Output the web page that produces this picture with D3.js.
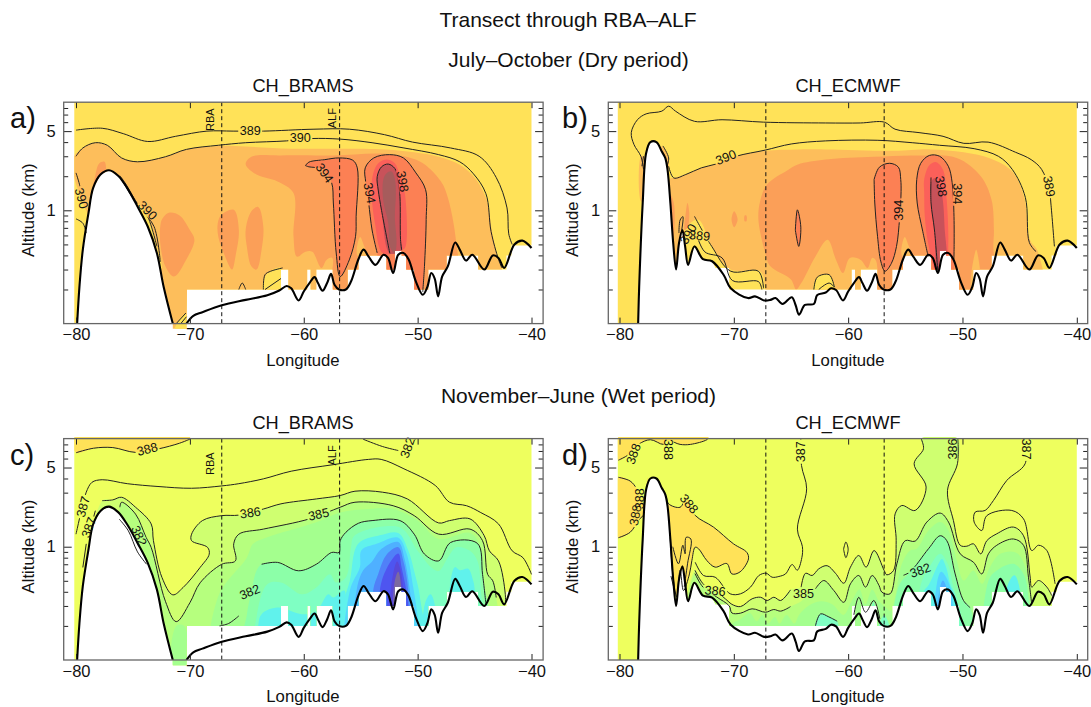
<!DOCTYPE html>
<html>
<head>
<meta charset="utf-8">
<style>
body { margin: 0; background: #fff; }
text { font-family: "Liberation Sans", Arial, sans-serif; fill: #111; }
.cline { fill: none; stroke: #222; stroke-width: 1px; }
.terrain { fill: none; stroke: #000; stroke-width: 2.1px; }
.site { stroke: #111; stroke-width: 1px; stroke-dasharray: 4 3; }
.tick line { stroke: #222; }
</style>
</head>
<body>
<script src="https://d3js.org/d3.v7.min.js"></script>
<script>

var longitudeTicks = [-80, -70, -60, -50, -40];
var altitudeTicks = [0.2, 0.3, 0.4, 0.5, 0.6, 0.7, 0.8, 0.9, 1, 2, 3, 4, 5, 6, 7, 8];
var altitudeMajor = [1, 5];
var siteLongitudes = [-67.2, -56.85];

// fill levels: dry period yellows and reds, wet period greens and blues
var levelColors = ['#ffe258', '#fdbe5b', '#fb9f58', '#fc8054', '#fb605a', '#c8525a', '#a65c5c',
	'#cfff70', '#b6ff7e', '#a4ff8e', '#8cffa8', '#7fffc3', '#60f2ec', '#55d5ff', '#4fb0ff', '#5080f8', '#4e55f0', '#5848d8', '#7c6aa0'];
var baseDry = '#ffe258';
var baseWet = '#eeff5e';

// ground height along the transect [lon, km]
var terrainBramsLeft = [[-79.9,0.1],[-79.7,0.21],[-79.4,0.45],[-78.9,0.95],[-78.5,1.57],[-77.85,2.07],[-77.1,2.26],[-76.3,2.02],[-75.5,1.57],[-74.6,1.08],[-73.7,0.72],[-72.9,0.42],[-72.3,0.21],[-71.5,0.1]];
var terrainBramsValley = [[-70.3,0.1],[-69.7,0.117],[-68.9,0.126],[-67.2,0.145],[-65.1,0.162],[-63.2,0.178],[-62.15,0.196],[-61.5,0.215],[-61.1,0.205]];
var terrainEcmwfLeft = [[-78.37,0.1],[-78.28,0.21],[-77.97,1.16],[-77.67,3.2],[-77.3,4],[-76.77,4],[-76.3,3.3],[-76,2.9],[-75.8,2.29],[-75.55,1.16],[-75.3,0.51],[-75.05,0.3],[-74.8,0.51],[-74.5,0.67],[-74.26,0.48],[-74,0.33],[-73.45,0.48],[-72.7,0.37],[-71.9,0.355],[-70.9,0.27]];
var terrainEcmwfValley = [[-70.27,0.205],[-68.76,0.168],[-68.15,0.174],[-67.34,0.16],[-66.8,0.162],[-66.35,0.168],[-65.74,0.149],[-64.93,0.171],[-64.6,0.146],[-64.3,0.12],[-63.78,0.146],[-63,0.149],[-62.7,0.179],[-61.96,0.188],[-61.5,0.205],[-61.06,0.198]];
var terrainRight = [[-60.45,0.16],[-60,0.192],[-59.5,0.228],[-59.05,0.257],[-58.75,0.228],[-58.35,0.195],[-57.95,0.228],[-57.6,0.275],[-57.3,0.22],[-56.9,0.2],[-56.3,0.2],[-55.85,0.235],[-55.2,0.37],[-54.75,0.45],[-54.3,0.39],[-53.7,0.33],[-53,0.405],[-52.6,0.38],[-52.15,0.28],[-51.7,0.405],[-51.25,0.42],[-50.8,0.37],[-50.15,0.235],[-49.55,0.18],[-49.15,0.21],[-48.8,0.28],[-48.5,0.25],[-48.2,0.174],[-47.85,0.26],[-47.35,0.32],[-46.7,0.52],[-46.3,0.45],[-45.75,0.36],[-45.2,0.405],[-44.15,0.3],[-43.4,0.4],[-42.9,0.38],[-42.4,0.31],[-41.5,0.5],[-40.8,0.54],[-40,0.465]];

// lowest model level with data, [lon where the step starts, km]
var floorBrams = [[-70.25,0.2],[-62,0.3],[-61.35,0.2]];
var floorEcmwf = [[-71.6,0.31],[-70.4,0.2]];
var floorCommon = [[-59.7,0.3],[-59.4,0.2],[-58.9,0.3],[-57.45,0.2],[-56.15,0.3],[-55.2,0.4],[-52.73,0.3],[-52,0.44],[-51.4,0.4],[-51,0.3],[-50.3,0.2],[-49.07,0.3],[-47.46,0.4],[-44.68,0.3],[-42.2,0.4],[-41.76,0.49]];

// panel a contours
var a389 = [[-80,5.1],[-77.7,5.3],[-75.85,4.75],[-73.7,4.05],[-71.25,4.5],[-68.5,5],[-66.2,5],[-63.55,5],[-59.1,5.2],[-56,5.2],[-52.9,4.65],[-50.45,4],[-47.1,3.55],[-44.6,3],[-43.1,1.95],[-42.15,1.05],[-42,0.62],[-41.7,0.5]];
var a390 = [[-80,3],[-79.4,3.55],[-78.3,3.95],[-77.25,3.75],[-76,2.9],[-74.6,2.68],[-72.15,2.97],[-70.3,3.45],[-67.5,3.75],[-65.1,3.95],[-61.5,4.1],[-59.3,4.3],[-56.8,4.25],[-54,3.95],[-51.2,3.55],[-48.15,3.1],[-46.3,2.68],[-45.1,2.1],[-44,1.4],[-43.55,0.65],[-42.9,0.37],[-42.6,0.31]];
var aLobeA = [[-59.85,2.48],[-59.55,2.66],[-58.15,2.8],[-56.9,2.9],[-55.7,2.77],[-55.3,2.37],[-55.4,0.885],[-55.45,0.59],[-56,0.365],[-56.8,0.26],[-57.15,0.42],[-57.4,1.16],[-57.55,1.75],[-58.3,2.3],[-59.55,2.42],[-59.85,2.48]];
var aLobeB = [[-53.55,0.42],[-54,0.67],[-54.3,1.16],[-54.55,1.75],[-54.6,2.37],[-53.85,2.9],[-52.45,3.1],[-51.25,2.9],[-50.15,2.14],[-49.3,1.52],[-49.25,0.83],[-49.4,0.32],[-49.55,0.19]];
var a398 = [[-52.44,0.416],[-53.17,1],[-53.46,1.51],[-53.55,1.98],[-53.17,2.42],[-52.58,2.56],[-52,2.34],[-51.7,1.85],[-51.55,1.32],[-51.5,0.55],[-51.4,0.445]];
var aBits = [
	[[-80,2.14],[-79.7,1.7],[-79.55,1.4]],
	[[-80,0.84],[-79.4,0.77],[-79.1,0.63]],
	[[-76.15,2.02],[-75.7,1.75],[-74.45,1.08],[-73.15,0.72],[-72.6,0.35]],
	[[-76,1.87],[-74.9,1.24],[-73.85,0.95],[-72.9,0.48]],
	[[-63.55,0.2],[-63.4,0.27],[-62.9,0.29],[-61.85,0.31]],
	[[-63.4,0.2],[-62,0.25]],
	[[-65.7,0.2],[-65.4,0.228],[-65.1,0.2]],
	[[-71.2,0.1],[-70.35,0.124]],
	[[-70.8,0.1],[-70.3,0.115]]
];
var aFills = [
	[1, [[-80.2,2.95],[-79.4,3.55],[-78.3,3.95],[-77.25,3.75],[-76,2.9],[-74.6,2.68],[-72.15,2.97],[-70.3,3.45],[-67.5,3.7],[-65.1,3.65],[-61.1,3.5],[-56.8,3.5],[-52.8,3.45],[-50.3,3.25],[-48.15,2.97],[-46.3,2.53],[-45.1,2],[-44,1.29],[-43.4,0.59],[-42.9,0.37],[-42.6,0.3],[-42.6,0.09],[-78.9,0.09],[-78.9,0.85],[-79.3,1.1],[-80.2,2.05]]],
	[0, [[-76,1.87],[-74.9,1.24],[-73.85,0.95],[-72.9,0.48],[-72.5,0.3],[-72.9,0.3],[-73.7,0.7],[-74.6,1.05],[-75.5,1.55]]],
	[0, [[-63.55,0.19],[-63.3,0.27],[-62,0.31],[-61.9,0.19]]],
	[0, [[-71.3,0.09],[-70.4,0.122],[-70.25,0.09]]],
	[2, [[-65.1,2.55],[-64.6,2.97],[-62,3.05],[-57.4,3.05],[-52.8,3.15],[-49.8,2.69],[-48.05,1.85],[-47.46,1.41],[-46.6,0.51],[-46.5,0.09],[-57.5,0.09],[-57.5,0.38],[-58,0.365],[-58.45,0.31],[-59.25,0.43],[-59.85,0.43],[-60.6,0.39],[-60.9,0.59],[-60.9,1.42],[-62.3,1.8],[-64.15,2.07]]],
	[2, [[-72.6,0.72],[-72.45,0.83],[-71.85,0.95],[-70.9,0.9],[-70,0.67],[-69.6,0.55],[-70.3,0.37],[-71.4,0.26],[-72.15,0.32],[-72.6,0.51]]],
	[2, [[-67.55,0.77],[-67.25,0.91],[-66.15,1.01],[-65.7,0.67],[-66,0.39],[-66.3,0.3],[-66.9,0.39],[-67.5,0.58]]],
	[2, [[-65.1,0.67],[-64.6,0.98],[-64,1.07],[-63.55,0.72],[-63.7,0.45],[-64.15,0.3],[-64.6,0.32],[-65,0.48]]],
	[2, [[-78.3,2.05],[-77.95,2.6],[-77.5,2.68],[-77.4,2.2],[-78.15,1.79],[-78.45,1.19],[-78.6,1.19]]],
	[1, [[-55.3,0.4],[-55.05,0.58],[-54.75,0.5],[-54.4,0.38]]],
	[3, aLobeA],
	[3, aLobeB.concat([[-49.55,0.09],[-53.55,0.09]])],
	[4, [[-53.9,2.12],[-53.46,2.6],[-52.73,2.81],[-52,2.6],[-51.62,2.12],[-51.12,1.41],[-51.03,0.49],[-51.27,0.45],[-53.02,0.416],[-53.75,0.77],[-54.05,1.52]]],
	[5, a398],
	[6, [[-53.02,1.85],[-52.73,2.12],[-52.29,2.2],[-52,1.9],[-51.91,1.41],[-52,0.87],[-51.85,0.52],[-52,0.416],[-52.44,0.48],[-52.58,0.77],[-53.02,1.22]]]
];
var aLines = [a389, a390, aLobeA, aLobeB, a398].concat(aBits);
var aLabels = [
	[-64.7,5.07,0,'389'],[-60.3,4.37,0,'390'],[-58.15,2.14,55,'394'],[-54.2,1.42,80,'394'],[-51.3,1.8,80,'398'],[-79.5,1.28,75,'390'],[-73.7,1,45,'390']
];

// panel b contours
var b389 = [[-41.96,0.48],[-42.27,1.16],[-42.4,1.52],[-43.08,2.3],[-43.99,2.8],[-45.35,3.25],[-47.76,4],[-49.88,3.9],[-51.7,4.5],[-53.8,4.85],[-55.9,5.2],[-56.83,6],[-58.94,5.9],[-61.96,5.9],[-67.4,6],[-71.03,6.3],[-73.44,6.1],[-75.1,7.5],[-75.7,8.3],[-76.3,7.5],[-77.67,7.1],[-78.43,6.3],[-78.97,4.85],[-78.73,3.8],[-78.13,3],[-77.9,2.3]];
var b390 = [[-75.7,2.45],[-75.25,1.93],[-74.2,2.07],[-72.84,2.37],[-71.63,2.55],[-69.8,3],[-67.25,3.4],[-64.98,3.85],[-61.96,4.1],[-57.4,4.15],[-54.4,3.95],[-52,3.75],[-48.98,3.5],[-46.86,3],[-45.65,2.3],[-44.5,1.3],[-44.15,0.52],[-43.55,0.43]];
var bLobeA = [[-57.73,1.87],[-57.27,2.4],[-56.37,2.6],[-55.6,2.4],[-55.4,1.87],[-55.37,1.47],[-55.5,0.85],[-55.77,0.48],[-56.22,0.34],[-56.77,0.29],[-57.13,0.35],[-57.43,0.59],[-57.67,1.16],[-57.73,1.87]];
var bSliver = [[-64.62,0.67],[-64.44,1.01],[-64.14,0.71],[-64.32,0.48],[-64.62,0.67]];
var bLobeB = [[-53,0.39],[-53.5,0.67],[-53.96,1.16],[-54,1.87],[-53.65,2.6],[-52.9,3.05],[-52,3],[-51.24,2.45],[-50.9,1.75],[-50.75,0.96],[-50.73,0.5],[-50.75,0.37]];
var b398 = [[-52.15,0.28],[-52.45,0.67],[-52.75,1.16],[-52.75,1.95]];
var bBits = [
	[[-73.44,0.885],[-71.93,0.48],[-70.27,0.29],[-67.85,0.29],[-67.4,0.205]],
	[[-73.3,0.63],[-72.54,0.43],[-71.03,0.38],[-70.12,0.24],[-67.85,0.235],[-67.55,0.2]],
	[[-63,0.2],[-62.7,0.257],[-61.66,0.27],[-61.2,0.21]],
	[[-62.57,0.2],[-61.66,0.228],[-61.2,0.21]],
	[[-78.04,2.45],[-77.9,3]],
	[[-76.2,3.7],[-75.7,2.9],[-75.85,2.45]],
	[[-74.8,0.63],[-74.7,0.82],[-74.45,0.88],[-74.6,0.63]]
];
var bFills = [
	[1, [[-75.6,1.9],[-75.25,1.93],[-74.2,2.07],[-72.84,2.37],[-71.63,2.55],[-69.8,3],[-67.25,3.35],[-64.4,3.45],[-62,3.45],[-56,3.35],[-52.8,3.45],[-49.9,3.25],[-47.5,2.85],[-45.65,2.2],[-44.6,1.3],[-44.1,0.55],[-43.4,0.43],[-43.3,0.09],[-67,0.09],[-67.25,0.205],[-67.7,0.29],[-70.27,0.3],[-71.9,0.48],[-73.14,0.83],[-74.5,0.63],[-75.1,0.3],[-75.55,0.51]]],
	[1, [[-78.12,3],[-77.85,3],[-77.9,1.2],[-78.12,1.2]]],
	[1, [[-76.3,3.7],[-75.7,2.9],[-75.8,2.2],[-76.3,2.6]]],
	[0, [[-63,0.19],[-62.7,0.257],[-61.66,0.27],[-61.2,0.19]]],
	[2, [[-67.85,0.83],[-67.7,1.2],[-67.1,1.69],[-65.3,2.26],[-64.4,2.54],[-61.96,2.81],[-57.73,2.97],[-54.1,3.05],[-50.5,2.9],[-48.4,2],[-47.46,1.24],[-47.25,0.67],[-47.3,0.48],[-47.3,0.09],[-57.45,0.09],[-57.43,0.3],[-57.6,0.365],[-57.9,0.38],[-58.3,0.31],[-58.9,0.365],[-59.85,0.38],[-60.45,0.28],[-61.06,0.365],[-61.8,0.55],[-62.87,0.39],[-64.1,0.228],[-64.55,0.2],[-65,0.245],[-66.8,0.32],[-67.25,0.42]]],
	[2, [[-70.2,0.83],[-69.97,0.98],[-69.67,0.83],[-69.97,0.71]]],
	[2, [[-69.05,0.9],[-68.9,0.9],[-68.9,0.8],[-69.05,0.8]]],
	[2, [[-74.2,0.95],[-74.05,1.16],[-73.9,0.95],[-74.05,0.7],[-74.3,0.67]]],
	[2, [[-75.55,1.37],[-75.25,1.16],[-75.2,0.67],[-75.4,0.48],[-75.6,0.6]]],
	[1, [[-55.3,0.4],[-55.05,0.58],[-54.75,0.5],[-54.4,0.38]]],
	[1, [[-49.2,0.2],[-48.8,0.45],[-48.5,0.2]]],
	[3, bLobeA],
	[3, bSliver],
	[3, bLobeB.concat([[-50.73,0.09],[-53,0.09]])],
	[4, [[-53.35,1.43],[-53.35,1.87],[-52.9,2.5],[-52.3,2.66],[-51.7,2.28],[-51.4,1.33],[-51.24,0.51],[-51.4,0.34],[-52.15,0.27],[-53,0.51],[-53.3,0.9]]],
	[5, [[-52.75,1.75],[-52.45,1.93],[-51.85,1.45],[-51.55,0.67],[-51.45,0.34],[-52.15,0.27],[-52.45,0.67],[-52.75,1.16]]]
];
var bLines = [b389, b390, bLobeA, bSliver, bLobeB, b398].concat(bBits);
var bLabels = [
	[-70.7,2.95,-22,'390'],[-55.56,1,-90,'394'],[-50.4,1.4,90,'394'],[-51.85,1.63,80,'398'],[-42.4,1.63,80,'389'],[-74,0.62,-60,'390'],[-73,0.6,5,'389']
];

// panel c contours
var c388 = [[-80,6.75],[-78.46,7.4],[-76.77,7.5],[-74.77,6.8],[-72.77,7.3],[-70.9,8.2],[-70,8.9]];
var c387 = [[-80,1.29],[-79.7,1.76],[-79.4,2.39],[-79.1,3.03],[-78.6,3.7],[-77.7,3.9],[-75.5,3.6],[-72.8,3.4],[-69.85,3.28],[-67.2,3.44],[-65.7,3.6],[-63.55,3.97],[-61.1,4.64],[-57.4,5.3],[-54.3,5.9],[-53.2,5.9],[-51.2,4.87],[-48.45,3.47],[-47.2,2.47],[-45.7,2.3],[-44.45,2],[-42.9,1.59],[-41.7,0.92],[-40.75,0.8],[-40,0.57]];
var c386 = [[-77.7,2.55],[-76.77,2.59],[-76,2.73],[-74.77,2.23],[-73.4,1.59],[-73.2,1.13],[-72.45,0.535],[-71.5,0.376],[-70.6,0.436],[-69.1,0.656],[-68.3,0.86],[-68.45,0.987],[-69.85,1.13],[-69.85,1.29],[-68.9,1.7],[-67.2,1.88],[-65.7,1.9],[-63.55,2.15],[-62,2.39],[-58.9,2.64],[-56.8,2.83],[-55.5,3.09],[-53.1,3.03],[-50.9,2.64],[-48.15,1.62],[-47.2,1.7],[-45.4,1.76],[-44.15,1.25],[-43.7,0.92],[-42.9,0.75],[-42.3,0.38],[-42.3,0.31]];
var c385 = [[-76.15,2.23],[-76,2.47],[-74.77,1.94],[-73.85,1.21],[-73.4,0.987],[-72.15,0.33],[-71.2,0.218],[-70,0.32],[-69.1,0.48],[-67.2,0.7],[-66,0.75],[-66.15,1.06],[-65.7,1.29],[-63.55,1.43],[-59.5,1.76],[-56.8,2.23],[-55.5,2.47],[-52.15,2.3],[-50.3,1.88],[-48.15,1.29],[-45.4,1.43],[-44.3,1.13],[-43.85,0.57],[-43.4,0.5],[-43.1,0.356]];
var c384 = [[-63.7,0.7],[-62.3,0.727],[-60.45,0.613],[-58.9,0.7],[-57.55,0.89],[-56.9,0.89],[-56.8,1.13],[-56.3,1.34],[-55.2,1.61],[-54,1.7],[-51.55,1.7],[-50.3,1.29],[-49.4,0.86],[-48.15,0.75],[-47.1,1.09],[-44.75,1.07],[-44.3,0.57],[-44,0.31]];
var cBits = [
	[[-79.4,0.656],[-79.1,1.06]],
	[[-78.77,1.39],[-78.3,2.08]],
	[[-76.2,1.75],[-75.4,1.38],[-74.6,0.9],[-73.8,0.7]],
	[[-67.4,0.2],[-66.6,0.21],[-65.7,0.245]],
	[[-54.8,8.9],[-53.1,7.67],[-51.7,7.06]],
	[[-50.65,8.1],[-50.15,8.9]]
];
var cFills = [
	[0, c388.concat([[-70,9.3],[-80.2,9.3]])],
	[7, c386.concat([[-42.3,0.09],[-77.7,0.09]])],
	[8, c385.concat([[-43.1,0.09],[-76.15,0.09]])],
	[9, [[-71.5,0.09],[-71.2,0.2],[-70.5,0.2],[-70.2,0.09]]],
	[9, [[-67.55,0.356],[-65,0.8],[-64.45,1.06],[-63.2,1.21],[-58.9,1.64],[-56.8,2],[-54.3,2.15],[-52.15,2.15],[-50,1.7],[-48.15,1.17],[-45.4,1.32],[-44.45,0.987],[-44.15,0.436],[-44.15,0.09],[-67.55,0.09]]],
	[10, c384.slice(0, c384.length - 1).concat([[-44.2,0.09],[-65.3,0.09],[-65,0.25],[-64.6,0.4],[-64.15,0.613]])],
	[11, [[-64.15,0.237],[-63.2,0.467],[-62,0.484],[-60.15,0.38],[-58.9,0.436],[-57.7,0.57],[-57.2,0.484],[-56.3,0.535],[-55.85,0.987],[-55.55,1.25],[-51.55,1.48],[-50,0.92],[-48.8,0.656],[-48.15,0.61],[-47.35,0.8],[-46.6,0.987],[-45.4,0.92],[-44.75,0.75],[-44.45,0.41],[-44.45,0.09],[-64.15,0.09]]],
	[12, [[-64,0.2],[-63.7,0.254],[-62.3,0.29],[-60.15,0.254],[-58.9,0.27],[-57.85,0.38],[-57.4,0.356],[-56.45,0.41],[-56.3,0.29],[-56.3,0.09],[-64,0.09]]],
	[12, [[-47.17,0.44],[-46.73,0.66],[-46.29,0.62],[-45.56,0.64],[-45.12,0.5],[-44.98,0.41],[-44.98,0.09],[-47.17,0.09]]],
	[12, [[-49.37,0.31],[-48.87,0.38],[-48.5,0.31],[-48.5,0.09],[-49.37,0.09]]],
	[12, [[-56.6,0.29],[-55.95,0.5],[-55.22,1.06],[-53.32,1.26],[-51.7,1.32],[-50.83,0.93],[-50.24,0.575],[-49.8,0.36],[-49.66,0.09],[-56.6,0.09]]],
	[13, [[-55.95,0.41],[-55.07,0.66],[-54.93,0.93],[-53.6,1.06],[-51.7,1.2],[-50.97,0.87],[-50.39,0.44],[-49.95,0.21],[-49.95,0.09],[-55.95,0.09]]],
	[14, [[-55.36,0.41],[-54.78,0.62],[-54.05,0.73],[-53.17,0.96],[-51.7,1.1],[-51.12,0.76],[-50.68,0.41],[-50.54,0.29],[-50.54,0.09],[-55.36,0.09]]],
	[15, [[-53.9,0.41],[-53.46,0.575],[-52.73,0.85],[-51.7,0.99],[-51.27,0.76],[-50.83,0.41],[-50.83,0.09],[-53.9,0.09]]],
	[16, [[-53.32,0.41],[-52.73,0.64],[-51.7,0.87],[-51.41,0.66],[-50.83,0.31],[-50.83,0.09],[-53.32,0.09]]],
	[17, [[-52.44,0.31],[-52.15,0.575],[-51.8,0.74],[-51.5,0.62],[-51.27,0.41],[-51.27,0.09],[-52.44,0.09]]],
	[18, [[-52,0.5],[-51.7,0.6],[-51.47,0.47],[-51.47,0.3],[-52,0.3]]]
];
var cLines = [c388, c387, c386, c385, c384].concat(cBits);
var cLabels = [
	[-73.75,7.3,-15,'388'],[-50.9,7.5,-70,'382'],[-79.4,2.26,-75,'387'],[-78.9,1.48,-70,'387'],[-74.45,1.25,65,'382'],[-64.7,2,-8,'386'],[-58.7,1.94,-12,'385'],[-64.75,0.4,-22,'382']
];

// panel d contours
var dTopLeft = [[-80.1,5.8],[-79.2,6.5],[-78.34,8],[-77.3,8.8],[-76.15,8],[-75.7,8.6],[-74.7,8],[-73.8,8],[-72.36,8.8],[-72.2,9.2]];
var dWestPool = [[-80.1,4.1],[-79.07,3.8],[-78.48,3.24],[-78.13,2.74],[-77.9,2.4]];
var dWestPoolLow = [[-77.9,1.9],[-78.34,1.7],[-79.07,1.34],[-80.1,1.2]];
var dSlope = [[-75.9,2.8],[-75.7,2.39],[-74.7,2.23],[-74.17,2.65],[-73.38,1.89],[-71.78,1.49],[-70.03,1.06],[-68.86,0.89],[-68.72,0.78],[-69.45,0.6],[-70.17,0.575],[-70.61,0.71],[-71.63,0.66],[-72.36,0.755],[-73.09,0.96],[-73.38,0.99],[-73.67,0.755],[-73.88,0.575],[-74.4,0.41],[-74.7,0.62],[-75,0.36],[-75.34,0.575],[-75.57,1.21]];
var d387 = [[-73.38,0.73],[-72.65,0.557],[-71.63,0.538],[-70.32,0.384],[-69.42,0.384],[-68.54,0.44],[-67.81,0.557],[-67.17,0.583],[-66.65,0.538],[-66.06,0.546],[-65.48,0.575],[-64.9,0.696],[-64.45,0.62],[-64.05,0.8],[-64,1],[-64.44,1.43],[-63.63,3.24],[-64.08,5.2],[-64.14,8.9]];
var d386West = [[-53.62,9],[-53.41,7.33],[-54.23,5.4],[-53.18,3.36],[-54.14,2.09],[-55.31,2.31],[-55.89,1.95],[-55.8,1.13],[-56.03,0.617],[-56.62,0.565],[-56.85,0.617],[-57.73,0.925],[-58.43,0.66],[-59.07,0.836],[-59.8,0.66],[-60.38,0.476],[-61.11,0.583],[-61.84,0.68],[-62.57,0.638],[-63.15,0.557],[-63.73,0.583],[-64.11,0.44]];
var d386East = [[-50.41,9],[-50.44,5.4],[-51.31,3.14],[-50.79,1.7],[-50.2,1.03],[-49.62,1.01],[-49.04,1.06],[-48.4,0.865],[-47.87,1.13],[-47,1.3],[-45.54,1.49],[-44.66,1.25],[-44.08,0.54],[-43.94,0.44],[-43.35,0.503],[-42.62,0.44],[-42.19,0.37]];
var d387East = [[-44.52,9],[-44.52,5.4],[-46.12,3.85],[-47.29,2.56],[-48.02,2.09],[-48.89,2.02],[-48.98,1.65],[-48.31,1.39],[-47.87,1.88],[-45.69,2.09],[-44.66,1.76],[-43.94,0.925],[-43.35,1.03],[-42.62,0.925],[-41.9,0.47]];
var d385West = [[-73.4,0.62],[-72.6,0.46],[-71.63,0.41],[-70.5,0.33],[-70.17,0.31],[-69.42,0.296],[-68.4,0.347],[-67.67,0.358],[-67.08,0.335],[-66.5,0.358],[-65.9,0.335],[-65.04,0.416]];
var d385East = [[-62.86,0.425],[-62.13,0.503],[-61.25,0.41],[-60.38,0.323],[-59.8,0.47],[-59.07,0.557],[-58.48,0.44],[-57.9,0.557],[-57.3,0.455],[-57.05,0.397],[-56.33,0.384],[-55.74,0.706],[-55.01,1.13],[-54.14,1.12],[-53.12,1.65],[-51.95,1.98],[-51.22,1.65],[-50.2,0.865],[-49.04,0.73],[-48.31,0.575],[-47.73,0.865],[-47,1.03],[-45.54,1.17],[-44.66,1.03],[-44.23,0.538],[-43.94,0.31]];
var d384West = [[-73.4,0.58],[-72.7,0.44],[-71.5,0.36],[-70.4,0.3],[-70.17,0.26],[-69.42,0.259],[-68.4,0.283],[-67.23,0.264],[-66.5,0.279],[-65.9,0.27],[-65.04,0.296]];
var d382 = [[-55.16,0.56],[-54.58,0.6],[-52.97,0.96],[-51.95,1.25],[-51.37,1.13],[-50.64,0.575],[-49.91,0.335],[-49.33,0.29]];
var dBits = [
	[[-60.4,0.95],[-60.2,1.1],[-60,0.95],[-60.2,0.8],[-60.4,0.95]],
	[[-62.86,0.2],[-62.42,0.255],[-61.69,0.24],[-60.96,0.22]],
	[[-59.5,0.25],[-59.07,0.358],[-58.48,0.264],[-57.75,0.335],[-57.23,0.231]],
	[[-75.34,1],[-74.84,0.706],[-74.46,1.03],[-74.26,0.865],[-74.17,1.21],[-73.76,1.17],[-74.05,0.706],[-74.34,0.44]],
	[[-75.5,0.55],[-75.1,0.38]]
];
var dFills = [
	[0, dTopLeft.concat([[-80.1,9.3]])],
	[0, dWestPool.concat([[-77.55,4.1],[-77.55,2.7]], dWestPoolLow)],
	[0, dSlope],
	[7, d386West.concat(d385West.slice().reverse(), [[-73.4,0.09],[-42.19,0.09]], d386East.slice().reverse())],
	[8, d384West.concat([[-64.1,0.33],[-63.5,0.38]], d385East, [[-43.94,0.09],[-73.4,0.09]])],
	[9, [[-70.3,0.2],[-69.4,0.23],[-68.6,0.26],[-68,0.22],[-67.5,0.25],[-67,0.21],[-66.4,0.24],[-66,0.21],[-65.4,0.25],[-64.7,0.21],[-64.3,0.25],[-63.5,0.3],[-62.4,0.33],[-61.4,0.31],[-60.4,0.25],[-59.7,0.33],[-59,0.42],[-58.5,0.31],[-57.9,0.42],[-57.3,0.33],[-56.7,0.29],[-56.3,0.27],[-55.9,0.358],[-55.3,0.706],[-54.58,0.925],[-54,0.96],[-52.97,1.39],[-51.95,1.65],[-51.3,1.44],[-50.5,0.755],[-49.9,0.503],[-49.04,0.617],[-48.3,0.47],[-47.6,0.66],[-46.7,0.865],[-45.4,0.895],[-44.66,0.73],[-44.1,0.358],[-44.1,0.09],[-70.3,0.09]]],
	[10, [[-55.6,0.44]].concat(d382.slice(1), [[-49.33,0.09],[-55.6,0.09]])],
	[10, [[-47.73,0.5],[-47,0.617],[-45.54,0.706],[-44.66,0.575],[-44.23,0.358],[-44.23,0.09],[-47.73,0.09]]],
	[11, [[-62.86,0.19],[-62.42,0.255],[-61.69,0.24],[-60.96,0.22],[-60.9,0.19]]],
	[11, [[-58,0.19],[-57.8,0.33],[-57.5,0.19]]],
	[11, [[-57.3,0.19],[-56.85,0.25],[-56.4,0.19]]],
	[11, [[-53.7,0.44],[-52.97,0.64],[-51.95,0.865],[-51.3,0.706],[-50.8,0.44],[-50.2,0.273],[-50,0.09],[-53.7,0.09]]],
	[12, [[-53.5,0.38],[-52.9,0.47],[-52.1,0.706],[-51.8,0.78],[-51.43,0.66],[-51.08,0.47],[-50.64,0.358],[-50.6,0.09],[-53.5,0.09]]],
	[12, [[-46.1,0.44],[-45.46,0.56],[-44.96,0.41],[-44.96,0.09],[-46.1,0.09]]],
	[13, [[-52.24,0.47],[-51.87,0.6],[-51.43,0.538],[-50.93,0.384],[-50.93,0.09],[-52.24,0.09]]],
	[14, [[-52.1,0.358],[-51.72,0.503],[-51.3,0.41],[-51.14,0.34],[-51.14,0.09],[-52.1,0.09]]]
];
var dLines = [dTopLeft, dWestPool, dWestPoolLow, dSlope, d387, d386West, d386East, d387East, d385West, d385East, d384West, d382].concat(dBits);
var dLabels = [
	[-78.8,6.6,-70,'388'],[-75.7,7.2,90,'388'],[-78.25,2.65,-90,'388'],[-78.63,1.9,-80,'388'],[-73.9,2.4,50,'388'],[-64.15,6.9,-90,'387'],[-71.63,0.41,5,'386'],[-63.9,0.384,0,'385'],[-53.7,0.62,-20,'382'],[-50.9,7.3,-90,'386'],[-44.4,7.3,90,'387']
];

var siteLabelsTop = [[-68.2,6.3,'RBA'],[-57.55,6.5,'ALF']];
var siteLabelsBottom = [[-68.2,5.4,'RBA'],[-57.55,6.4,'ALF']];

function stairs(steps, endLon) {
	var out = [];
	steps.forEach(function(s, i) {
		var next = i < steps.length - 1 ? steps[i + 1][0] : endLon;
		out.push([s[0], s[1]]);
		out.push([next, s[1]]);
	});
	return out;
}

var stairsRight = stairs(floorCommon, -40);
var terrainBrams = terrainBramsLeft.concat(terrainBramsValley, terrainRight);
var terrainEcmwf = terrainEcmwfLeft.concat(terrainEcmwfValley, terrainRight);
// outline of the model data, everything else stays white
var domainBrams = [[-80.15,9.3],[-80.15,0.09]].concat(terrainBramsLeft, [[-71.5,0.09],[-70.3,0.09]], stairs(floorBrams, -59.7), stairsRight, [[-40,9.3]]);
var ecmwfMountain = terrainEcmwfLeft.filter(function(d) { return d[0] < -71.6; });
var domainEcmwf = [[-80.15,9.3],[-80.15,0.09]].concat(ecmwfMountain, stairs(floorEcmwf, -59.7), stairsRight, [[-40,9.3]]);

var svgContainer = d3.select("body").append("svg")
	.attr("width", 1091)
	.attr("height", 707);

function addCentered(x, y, size, str) {
	svgContainer.append("text").attr("x", x).attr("y", y).attr("text-anchor", "middle")
		.style("font-size", size + "px").text(str);
}
addCentered(568, 27, 21, "Transect through RBA–ALF");
addCentered(568.5, 67, 21, "July–October (Dry period)");
addCentered(578.5, 403, 21, "November–June (Wet period)");

var panelList = [
	{ id: "a", frameX: 63.7, x80: 76, x40: 531.5, top: 102.2, title: "CH_BRAMS", titleX: 303, base: baseDry, fills: aFills, lines: aLines, labels: aLabels, terrain: terrainBrams, domain: domainBrams, sites: siteLabelsTop, letterX: 10 },
	{ id: "b", frameX: 608.3, x80: 619.5, x40: 1076.8, top: 102.2, title: "CH_ECMWF", titleX: 848, base: baseDry, fills: bFills, lines: bLines, labels: bLabels, terrain: terrainEcmwf, domain: domainEcmwf, sites: [], letterX: 562 },
	{ id: "c", frameX: 63.7, x80: 76, x40: 531.5, top: 438.6, title: "CH_BRAMS", titleX: 303, base: baseWet, fills: cFills, lines: cLines, labels: cLabels, terrain: terrainBrams, domain: domainBrams, sites: siteLabelsBottom, letterX: 10 },
	{ id: "d", frameX: 608.3, x80: 619.5, x40: 1076.8, top: 438.6, title: "CH_ECMWF", titleX: 848, base: baseWet, fills: dFills, lines: dLines, labels: dLabels, terrain: terrainEcmwf, domain: domainEcmwf, sites: [], letterX: 562 }
];

panelList.forEach(function(p) {
	var frameW = 479.4, frameH = 221.4;
	var bottom = p.top + frameH;
	var x = d3.scaleLinear().domain([-80, -40]).range([p.x80, p.x40]);
	var y = d3.scaleLog().domain([0.1, 9]).range([bottom, p.top]);
	var g = svgContainer.append("g");

	var line = d3.line().x(function(d) { return x(d[0]); }).y(function(d) { return y(d[1]); });
	var smooth = d3.line().x(function(d) { return x(d[0]); }).y(function(d) { return y(d[1]); }).curve(d3.curveCatmullRom.alpha(0.5));
	var blob = d3.line().x(function(d) { return x(d[0]); }).y(function(d) { return y(d[1]); }).curve(d3.curveCatmullRomClosed.alpha(0.5));

	var defs = g.append("defs");
	defs.append("clipPath").attr("id", "dom-" + p.id).append("path").attr("d", line(p.domain) + "Z");
	defs.append("clipPath").attr("id", "frm-" + p.id).append("rect")
		.attr("x", p.frameX).attr("y", p.top).attr("width", frameW).attr("height", frameH);
	var mask = defs.append("mask").attr("id", "gap-" + p.id).attr("maskUnits", "userSpaceOnUse")
		.attr("x", 0).attr("y", 0).attr("width", 1091).attr("height", 707);
	mask.append("rect").attr("width", 1091).attr("height", 707).attr("fill", "#fff");
	mask.selectAll("rect.gap").data(p.labels).enter().append("rect").attr("class", "gap")
		.attr("x", -12).attr("y", -5).attr("width", 24).attr("height", 10).attr("fill", "#000")
		.attr("transform", function(d) { return "translate(" + x(d[0]) + "," + y(d[1]) + ") rotate(" + d[2] + ")"; });

	var fillGroup = g.append("g").attr("clip-path", "url(#dom-" + p.id + ")");
	fillGroup.append("rect").attr("x", p.frameX).attr("y", p.top).attr("width", frameW).attr("height", frameH).attr("fill", p.base);
	fillGroup.selectAll("path").data(p.fills).enter().append("path")
		.attr("d", function(d) { return blob(d[1]); })
		.attr("fill", function(d) { return levelColors[d[0]]; });

	var lineGroup = g.append("g").attr("clip-path", "url(#frm-" + p.id + ")");
	lineGroup.append("g").attr("mask", "url(#gap-" + p.id + ")")
		.selectAll("path").data(p.lines).enter().append("path")
		.attr("class", "cline").attr("d", function(d) { return smooth(d); });

	lineGroup.selectAll("line").data(siteLongitudes).enter().append("line").attr("class", "site")
		.attr("x1", function(d) { return x(d); }).attr("x2", function(d) { return x(d); })
		.attr("y1", p.top).attr("y2", bottom);

	lineGroup.append("path").attr("class", "terrain").attr("d", smooth(p.terrain.slice(0, p.id == "a" || p.id == "c" ? terrainBramsLeft.length : p.terrain.length)));
	if (p.id == "a" || p.id == "c") {
		lineGroup.append("path").attr("class", "terrain").attr("d", smooth(terrainBramsValley.concat(terrainRight)));
	}

	g.selectAll("text.clabel").data(p.labels).enter().append("text").attr("class", "clabel")
		.attr("text-anchor", "middle").attr("dy", "0.36em").style("font-size", "12.6px")
		.attr("transform", function(d) { return "translate(" + x(d[0]) + "," + y(d[1]) + ") rotate(" + d[2] + ")"; })
		.text(function(d) { return d[3]; });

	g.selectAll("text.sitename").data(p.sites).enter().append("text").attr("class", "sitename")
		.attr("text-anchor", "middle").attr("dy", "0.36em").style("font-size", "11px")
		.attr("transform", function(d) { return "translate(" + x(d[0]) + "," + y(d[1]) + ") rotate(-90)"; })
		.text(function(d) { return d[2]; });

	// axes on all four sides, ticks point inwards
	var isMajor = function(d) { return altitudeMajor.indexOf(d) >= 0; };
	var axisBottom = d3.axisBottom(x).tickValues(longitudeTicks).tickSize(-6).tickPadding(5).tickFormat(d3.format("d"));
	var axisTop = d3.axisTop(x).tickValues(longitudeTicks).tickSize(-6).tickFormat("");
	var axisLeft = d3.axisLeft(y).tickValues(altitudeTicks).tickSize(-8).tickPadding(8).tickFormat(function(d) { return isMajor(d) ? d : ""; });
	var axisRight = d3.axisRight(y).tickValues(altitudeTicks).tickSize(-8).tickFormat("");

	var gb = g.append("g").attr("transform", "translate(0," + bottom + ")").call(axisBottom);
	var gt = g.append("g").attr("transform", "translate(0," + p.top + ")").call(axisTop);
	var gl = g.append("g").attr("transform", "translate(" + p.frameX + ",0)").call(axisLeft);
	var gr = g.append("g").attr("transform", "translate(" + (p.frameX + frameW) + ",0)").call(axisRight);
	[gb, gt, gl, gr].forEach(function(ax) {
		ax.select(".domain").remove();
		ax.selectAll("text").style("font-size", "16.5px").style("font-family", '"Liberation Sans", Arial, sans-serif');
	});
	gl.selectAll(".tick line").attr("x2", function(d) { return isMajor(d) ? 8 : 4.5; });
	gr.selectAll(".tick line").attr("x2", function(d) { return isMajor(d) ? -8 : -4.5; });

	g.append("rect").attr("x", p.frameX).attr("y", p.top).attr("width", frameW).attr("height", frameH)
		.attr("fill", "none").attr("stroke", "#666").attr("stroke-width", 1.3);

	var midX = p.titleX;
	g.append("text").attr("x", midX).attr("y", p.top - 10).attr("text-anchor", "middle").style("font-size", "18.2px").text(p.title);
	g.append("text").attr("x", midX).attr("y", bottom + 42).attr("text-anchor", "middle").style("font-size", "16.7px").text("Longitude");
	g.append("text").attr("transform", "translate(" + (p.frameX - 30) + "," + (p.top + 108) + ") rotate(-90)")
		.attr("text-anchor", "middle").style("font-size", "16.7px").text("Altitude (km)");
	g.append("text").attr("x", p.letterX).attr("y", p.top + 26).style("font-size", "29px").text(p.id + ")");
});

</script>
</body>
</html>
